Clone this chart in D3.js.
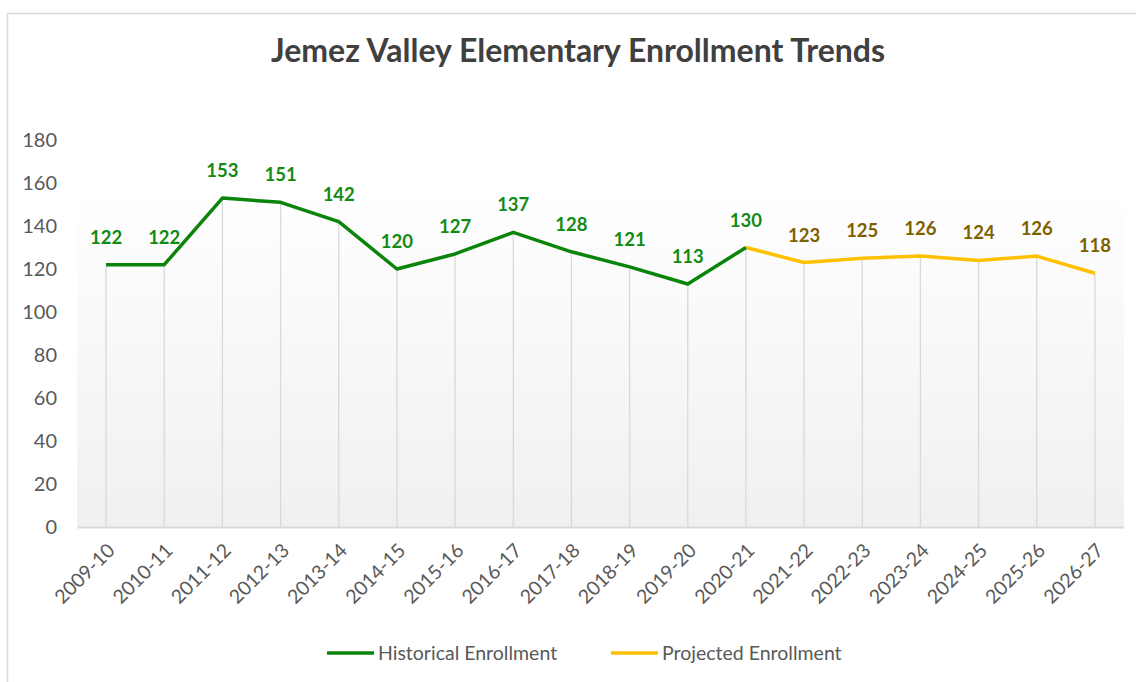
<!DOCTYPE html>
<html>
<head>
<meta charset="utf-8">
<script src="https://cdn.jsdelivr.net/npm/d3@7"></script>
<style>
  body { margin: 0; background: #fff; }
  svg { display: block; font-family: Lato, "Open Sans", sans-serif; }
</style>
</head>
<body>
<div id="chart"></div>
<script>
const WIDTH = 1136;
const HEIGHT = 682;

const years = ['2009-10', '2010-11', '2011-12', '2012-13', '2013-14', '2014-15',
  '2015-16', '2016-17', '2017-18', '2018-19', '2019-20', '2020-21', '2021-22',
  '2022-23', '2023-24', '2024-25', '2025-26', '2026-27'];
const historical = [122, 122, 153, 151, 142, 120, 127, 137, 128, 121, 113, 130];
// projected line starts at the last historical year
const projectedYears = years.slice(11);
const projected = [130, 123, 125, 126, 124, 126, 118];
const yTicks = [0, 20, 40, 60, 80, 100, 120, 140, 160, 180];

const COLOR = {
  hist: '#0a840a',
  histLabel: '#138a13',
  proj: '#ffc000',
  projLabel: '#7f6000',
  grid: '#d9d9d9',
  text: '#595959',
  title: '#404040',
};

const margin = {left: 77, right: 12, top: 140, bottom: 155};

const svg = d3.select('#chart').append('svg')
  .attr('width', WIDTH)
  .attr('height', HEIGHT);

// chart border
svg.append('rect')
  .attr('x', 7.5).attr('y', 13.5)
  .attr('width', WIDTH + 10).attr('height', HEIGHT + 10)
  .attr('fill', 'none')
  .attr('stroke', '#d9d9d9')
  .attr('stroke-width', 1.5);

const x = d3.scaleBand()
  .domain(years)
  .range([margin.left, WIDTH - margin.right]);
const y = d3.scaleLinear()
  .domain([0, 180])
  .range([HEIGHT - margin.bottom, margin.top]);
const cx = d => x(d) + x.bandwidth() / 2;

const defs = svg.append('defs');
const grad = defs.append('linearGradient')
  .attr('id', 'bg')
  .attr('x1', 0).attr('y1', 0).attr('x2', 0).attr('y2', 1);
grad.append('stop').attr('offset', '0%').attr('stop-color', '#ffffff');
grad.append('stop').attr('offset', '12%').attr('stop-color', '#fdfdfd');
grad.append('stop').attr('offset', '100%').attr('stop-color', '#f0f0f0');

svg.append('rect')
  .attr('x', x.range()[0])
  .attr('y', y(158))
  .attr('width', x.range()[1] - x.range()[0])
  .attr('height', y(0) - y(158))
  .attr('fill', 'url(#bg)');

// title
svg.append('text')
  .attr('x', 578)
  .attr('y', 62)
  .attr('text-anchor', 'middle')
  .attr('font-size', 32)
  .attr('font-weight', 'bold')
  .attr('fill', COLOR.title)
  .text('Jemez Valley Elementary Enrollment Trends');

// drop lines
const allVals = years.map((d, i) => i < historical.length ? historical[i] : projected[i - 11]);
svg.append('g')
  .selectAll('line')
  .data(years)
  .join('line')
  .attr('x1', d => cx(d)).attr('x2', d => cx(d))
  .attr('y1', (d, i) => y(allVals[i]))
  .attr('y2', y(0))
  .attr('stroke', COLOR.grid)
  .attr('stroke-width', 1.3);

// y axis
const yAxis = svg.append('g')
  .attr('transform', `translate(${margin.left - 20},0)`)
  .call(d3.axisLeft(y).tickValues(yTicks).tickSize(0).tickPadding(0));
yAxis.select('.domain').remove();
yAxis.selectAll('text')
  .attr('font-size', 20)
  .attr('fill', COLOR.text)
  .attr('font-family', 'Lato, "Open Sans", sans-serif');

// x axis
const xAxis = svg.append('g')
  .attr('transform', `translate(0,${y(0)})`)
  .call(d3.axisBottom(x).tickSize(0).tickPadding(0));
xAxis.select('.domain')
  .attr('stroke', COLOR.grid)
  .attr('stroke-width', 2);
xAxis.selectAll('text')
  .attr('font-size', 19.5)
  .attr('fill', COLOR.text)
  .attr('font-family', 'Lato, "Open Sans", sans-serif')
  .attr('text-anchor', 'end')
  .attr('dy', '0.35em')
  .attr('transform', 'translate(5,20) rotate(-45)');

// lines
const line = d3.line().x(d => cx(d[0])).y(d => y(d[1]));
const histPts = historical.map((v, i) => [years[i], v]);
const projPts = projected.map((v, i) => [projectedYears[i], v]);

svg.append('path')
  .datum(projPts)
  .attr('d', line)
  .attr('fill', 'none')
  .attr('stroke', COLOR.proj)
  .attr('stroke-width', 3.5)
  .attr('stroke-linejoin', 'round');

svg.append('path')
  .datum(histPts)
  .attr('d', line)
  .attr('fill', 'none')
  .attr('stroke', COLOR.hist)
  .attr('stroke-width', 3.5)
  .attr('stroke-linejoin', 'round');

// data labels
svg.append('g')
  .selectAll('text')
  .data(histPts)
  .join('text')
  .attr('x', d => cx(d[0]))
  .attr('y', d => y(d[1]) - 21)
  .attr('text-anchor', 'middle')
  .attr('font-size', 18.5)
  .attr('font-weight', 'bold')
  .attr('fill', COLOR.histLabel)
  .text(d => d[1]);

svg.append('g')
  .selectAll('text')
  .data(projPts.slice(1))
  .join('text')
  .attr('x', d => cx(d[0]))
  .attr('y', d => y(d[1]) - 21)
  .attr('text-anchor', 'middle')
  .attr('font-size', 18.5)
  .attr('font-weight', 'bold')
  .attr('fill', COLOR.projLabel)
  .text(d => d[1]);

// legend
const legend = [
  {name: 'Historical Enrollment', color: COLOR.hist, x: 327},
  {name: 'Projected Enrollment', color: COLOR.proj, x: 611},
];
const lg = svg.append('g')
  .selectAll('g')
  .data(legend)
  .join('g')
  .attr('transform', d => `translate(${d.x},653)`);
lg.append('line')
  .attr('x1', 0).attr('x2', 47)
  .attr('stroke', d => d.color)
  .attr('stroke-width', 3.5);
lg.append('text')
  .attr('x', 51)
  .attr('dy', '0.35em')
  .attr('font-size', 19.5)
  .attr('fill', COLOR.text)
  .text(d => d.name);
</script>
</body>
</html>
